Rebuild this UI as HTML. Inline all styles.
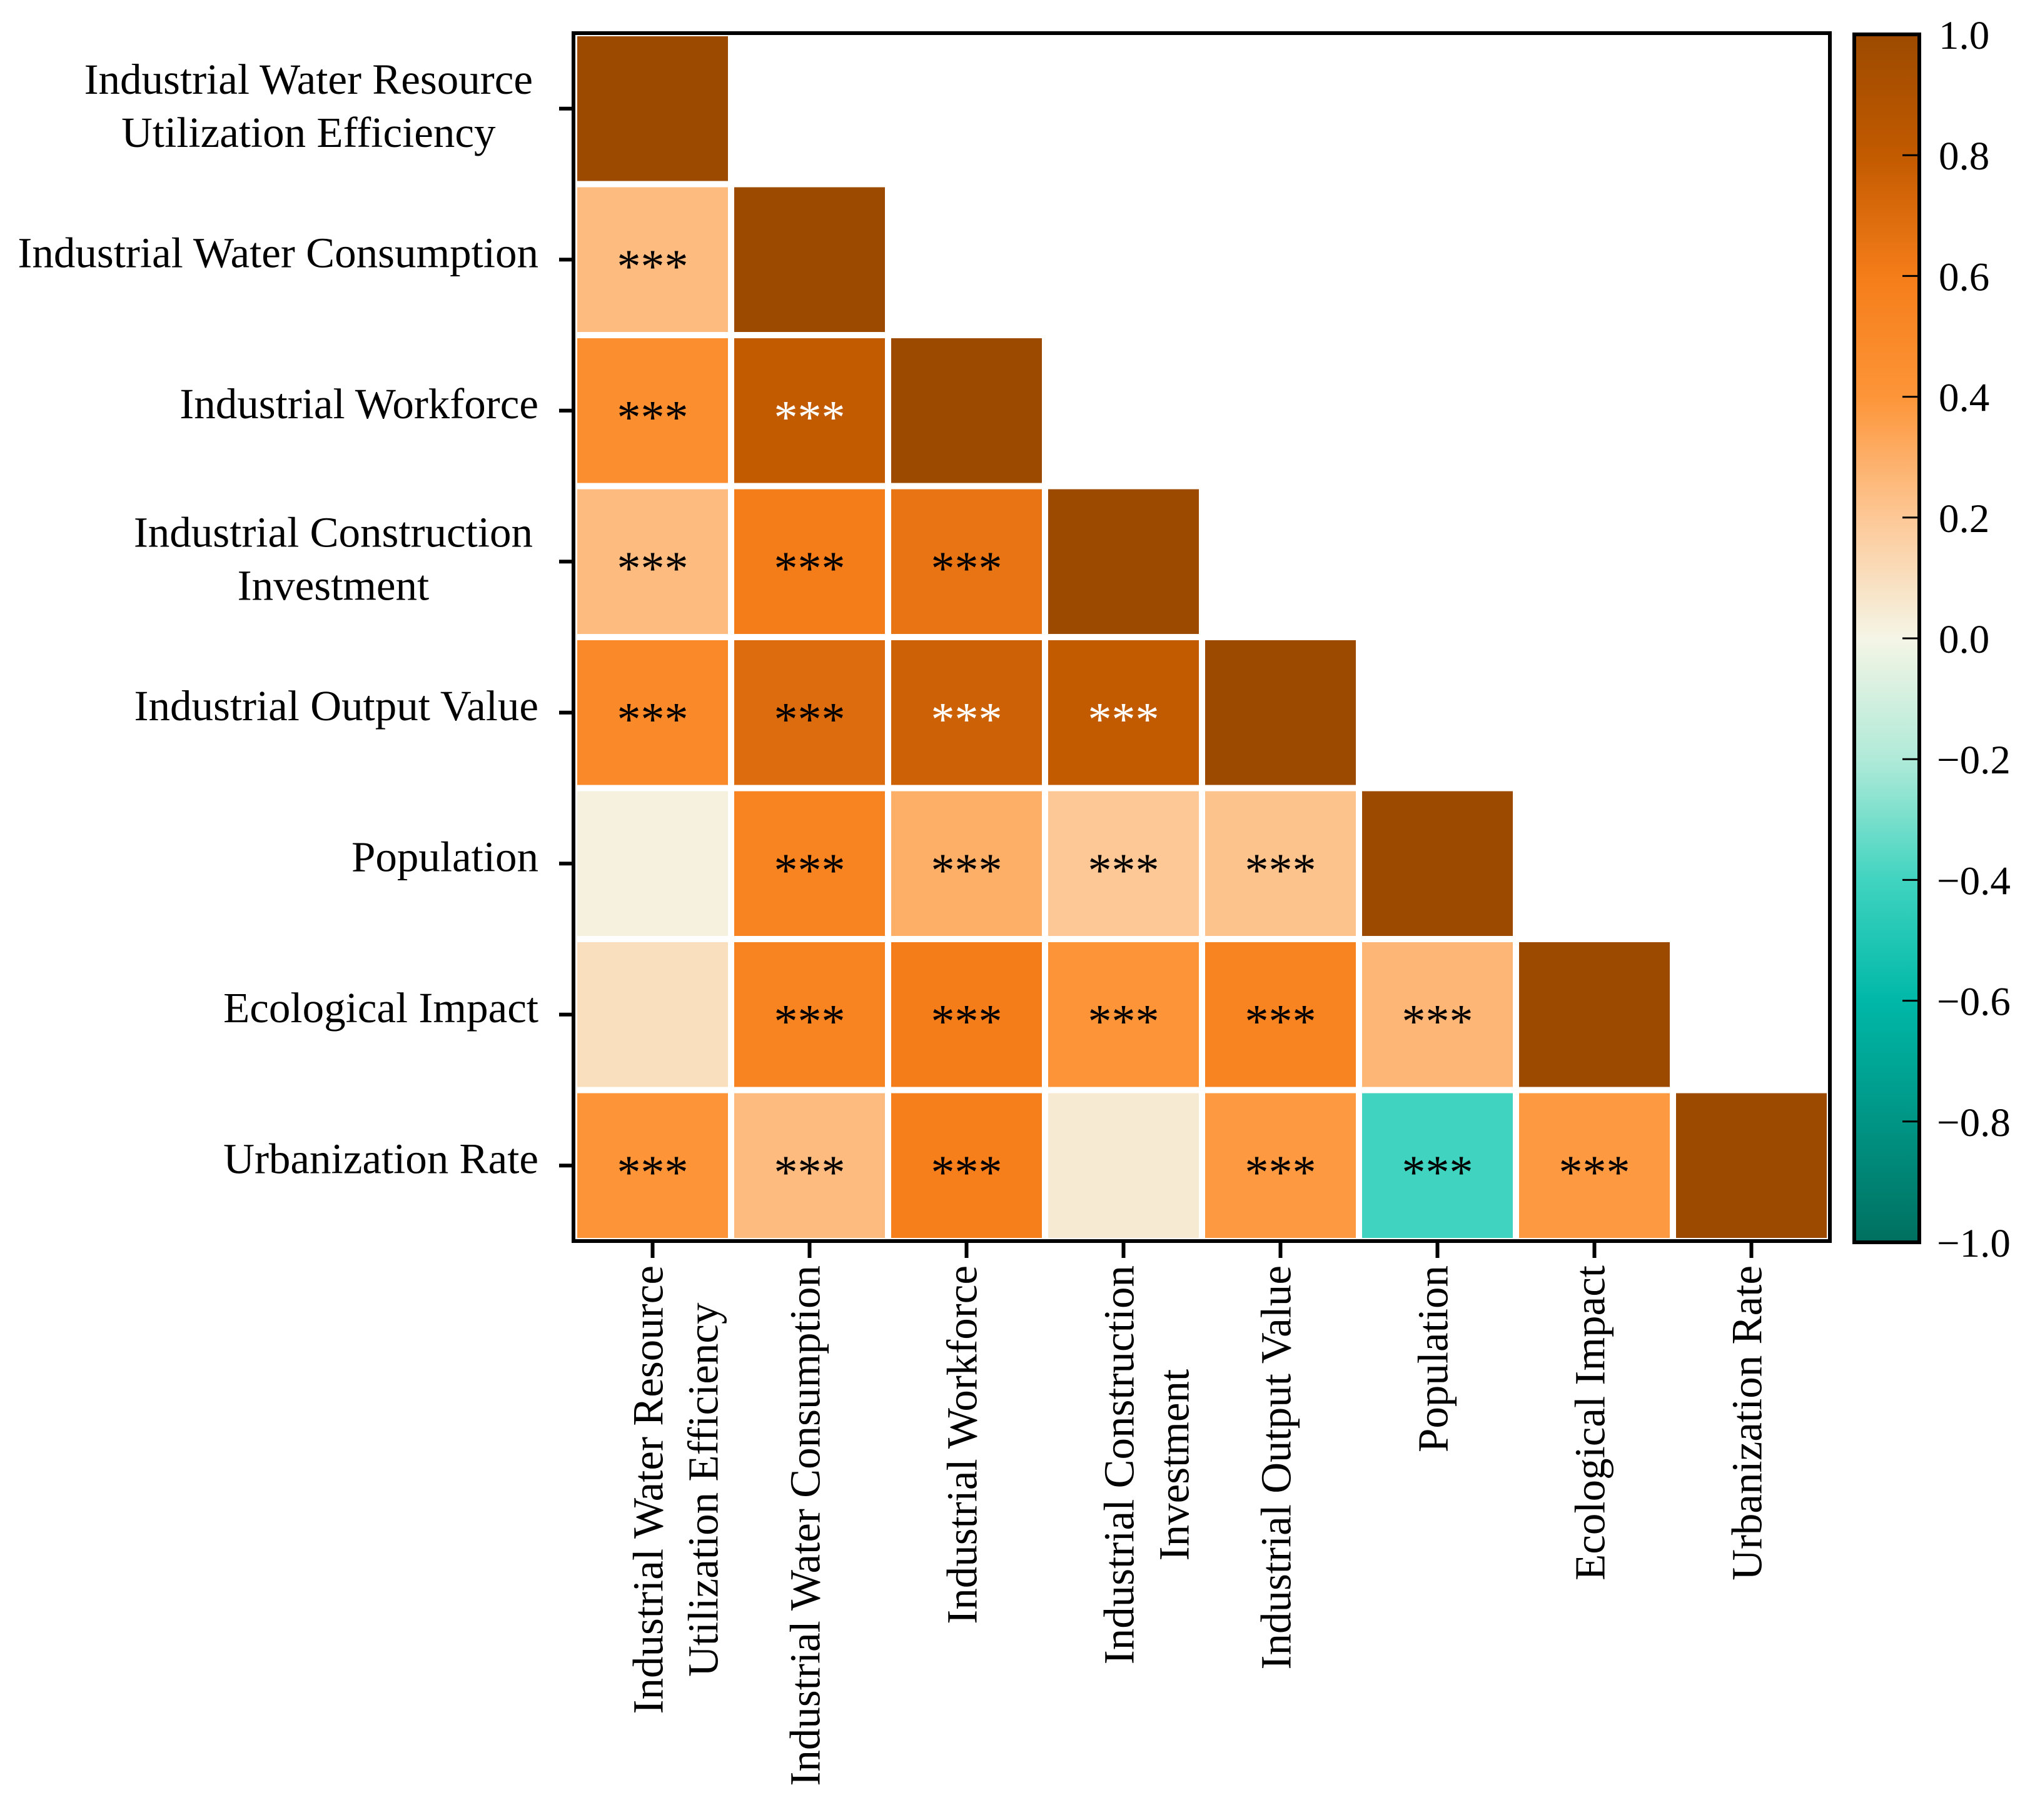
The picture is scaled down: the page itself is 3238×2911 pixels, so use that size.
<!DOCTYPE html>
<html><head><meta charset="utf-8"><style>
html,body{margin:0;padding:0;background:#fff;}
svg{display:block;font-family:"Liberation Serif",serif;}
</style></head><body>
<svg id="chart" width="3238" height="2911" viewBox="0 0 3238 2911" xmlns="http://www.w3.org/2000/svg">
<defs>
<linearGradient id="cbar" x1="0" y1="1" x2="0" y2="0">
<stop offset="0" stop-color="#007060"/>
<stop offset="0.1" stop-color="#009585"/>
<stop offset="0.2" stop-color="#00b8a8"/>
<stop offset="0.3" stop-color="#40d4c0"/>
<stop offset="0.4" stop-color="#b0ead8"/>
<stop offset="0.5" stop-color="#f5f5e6"/>
<stop offset="0.6" stop-color="#fdc896"/>
<stop offset="0.7" stop-color="#fd9538"/>
<stop offset="0.8" stop-color="#f57d19"/>
<stop offset="0.9" stop-color="#c25a00"/>
<stop offset="1" stop-color="#9c4a00"/>
</linearGradient>
</defs>
<g id="cells"></g>
<g id="labels"></g>
<rect x="917" y="53" width="2009" height="1932" fill="none" stroke="#000" stroke-width="6"/>
<rect x="2965" y="55" width="104" height="1932" fill="url(#cbar)" stroke="#000" stroke-width="6"/>
<g id="cbticks"></g>
</svg>
<script>
const labels = [
  ["Industrial Water Resource","Utilization Efficiency"],
  ["Industrial Water Consumption"],
  ["Industrial Workforce"],
  ["Industrial Construction","Investment"],
  ["Industrial Output Value"],
  ["Population"],
  ["Ecological Impact"],
  ["Urbanization Rate"]
];
const corrRows = [
  [1.0],
  [0.25, 1.0],
  [0.45, 0.80, 1.0],
  [0.25, 0.60, 0.65, 1.0],
  [0.50, 0.70, 0.76, 0.80, 1.0],
  [0.02, 0.55, 0.30, 0.20, 0.22, 1.0],
  [0.10, 0.55, 0.60, 0.40, 0.55, 0.27, 1.0],
  [0.40, 0.25, 0.58, 0.05, 0.38, -0.40, 0.38, 1.0]
];
const sigRows = [
  [""],
  ["***",""],
  ["***","***",""],
  ["***","***","***",""],
  ["***","***","***","***",""],
  ["","***","***","***","***",""],
  ["","***","***","***","***","***",""],
  ["***","***","***","","***","***","***",""]
];
const cbTicks = [1.0,0.8,0.6,0.4,0.2,0.0,-0.2,-0.4,-0.6,-0.8,-1.0];

const NS="http://www.w3.org/2000/svg";
const X0=918, Y0=53, CW=251, RH=241.5, N=8;
const xPos=i=>X0+i*CW;
const yPos=j=>Y0+j*RH;
const CB_TOP=55, CB_BOT=1987;
const cbY=v=>CB_BOT-(v+1)/2*(CB_BOT-CB_TOP);
const stops=[[-1,[0,112,96]],[-0.8,[0,149,133]],[-0.6,[0,184,168]],[-0.4,[64,212,192]],[-0.2,[176,234,216]],[0,[245,245,230]],[0.2,[253,200,150]],[0.4,[253,149,56]],[0.6,[245,125,25]],[0.8,[194,90,0]],[1,[156,74,0]]];
function color(v){
  for(let k=0;k<stops.length-1;k++){
    const a=stops[k],b=stops[k+1];
    if(v<=b[0]){const t=(v-a[0])/(b[0]-a[0]);
      const c=a[1].map((x,i)=>Math.round(x+(b[1][i]-x)*t));
      return `rgb(${c[0]},${c[1]},${c[2]})`;}
  }
  return "rgb(156,74,0)";
}
function mk(tag,attrs,parent){const e=document.createElementNS(NS,tag);for(const k in attrs)e.setAttribute(k,attrs[k]);parent.appendChild(e);return e;}
const gc=document.getElementById('cells'), gl=document.getElementById('labels'), gt=document.getElementById('cbticks');
const FS=69;
corrRows.forEach((row,j)=>{
  row.forEach((v,i)=>{
    const r=mk('rect',{x:xPos(i)+5,y:yPos(j)+5,width:CW-10,height:RH-10,fill:color(v)},gc);
    
    
    if(sigRows[j][i]){
      const t=mk('text',{x:xPos(i)+CW/2,y:yPos(j)+RH/2+36,'text-anchor':'middle','font-size':76,fill:v>=0.75?'#fff':'#000'},gc);
      t.textContent=sigRows[j][i];
      
      
    }
  });
});
function measure(s){const t=mk('text',{x:0,y:-100,'font-size':FS},gl);t.textContent=s;const w=t.getComputedTextLength();gl.removeChild(t);return w;}
labels.forEach((lines,j)=>{
  const cy=yPos(j)+RH/2;
  const tk=mk('line',{x1:894,x2:918,y1:cy,y2:cy,stroke:'#000','stroke-width':6},gl);
  
  
  const maxW=Math.max(...lines.map(measure));
  const yg=mk('text',{'font-size':FS,'text-anchor':lines.length>1?'middle':'end'},gl);
  
  
  lines.forEach((s,k)=>{
    const ts=mk('tspan',{x:lines.length>1?852-maxW/2:861,y:lines.length>1?(k===0?cy-24:cy+61):cy+12},yg);
    ts.textContent=s;
  });
  const cx=xPos(j)+CW/2;
  const tx=mk('line',{x1:cx,x2:cx,y1:1985,y2:2012,stroke:'#000','stroke-width':6},gl);
  
  
  const xg=mk('text',{'font-size':FS,'text-anchor':lines.length>1?'middle':'end',transform:'rotate(-90)'},gl);
  
  
  lines.forEach((s,k)=>{
    const ts=mk('tspan',{x:lines.length>1?-(2024+maxW/2):-2024,y:cx+16+k*88},xg);
    ts.textContent=s;
  });
});
cbTicks.forEach(v=>{
  const y=cbY(v);
  if(v<1&&v>-1){
    const l=mk('line',{x1:3042,x2:3068,y1:y,y2:y,stroke:'#000','stroke-width':3},gt);
    
    
  }
  const t=mk('text',{x:3100,y:y+23,'font-size':65},gt);
  t.textContent=(v<0?'\u2212':'')+Math.abs(v).toFixed(1);
  if(v<0)t.setAttribute('x',3097);
  
  
});
</script>
</body></html>
